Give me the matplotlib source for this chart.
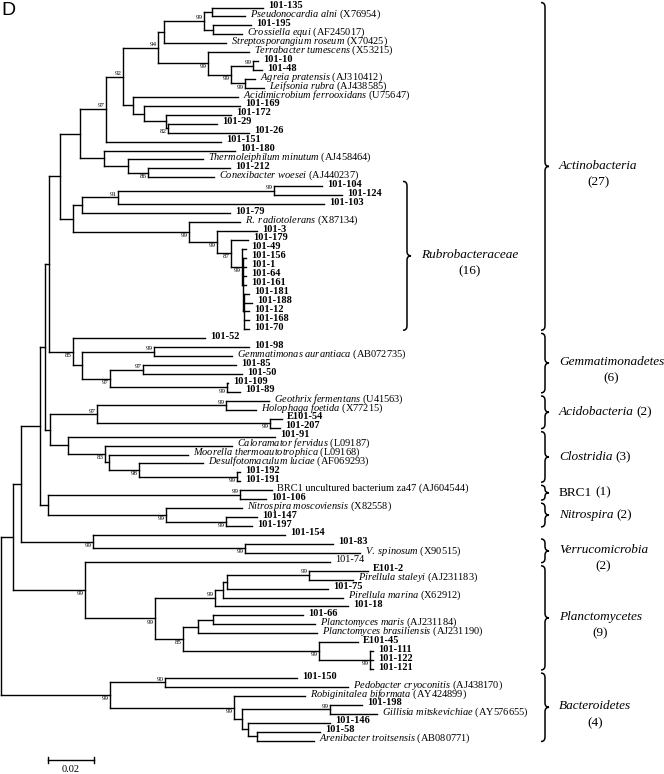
import matplotlib
matplotlib.use("Agg")
import matplotlib.pyplot as plt
from matplotlib.path import Path
from matplotlib.patches import PathPatch
from matplotlib.collections import LineCollection

plt.rcParams['font.family'] = ['Liberation Serif', 'DejaVu Serif']
plt.rcParams['mathtext.fontset'] = 'custom'
plt.rcParams['mathtext.rm'] = 'Liberation Serif'
plt.rcParams['mathtext.it'] = 'Liberation Serif:italic'
plt.rcParams['mathtext.bf'] = 'Liberation Serif:bold'

# leaves, top to bottom
leaf_names = [
    "101-135", "Pseudonocardia alni", "101-195", "Crossiella equi", "Streptosporangium roseum",
    "Terrabacter tumescens", "101-10", "101-48", "Agreia pratensis", "Leifsonia rubra",
    "Acidimicrobium ferrooxidans", "101-169", "101-172", "101-29", "101-26", "101-151",
    "101-180", "Thermoleiphilum minutum", "101-212", "Conexibacter woesei",
    "101-104", "101-124", "101-103", "101-79", "R. radiotolerans", "101-3", "101-179",
    "101-49", "101-156", "101-1", "101-64", "101-161", "101-181", "101-188", "101-12",
    "101-168", "101-70",
    "101-52", "101-98", "Gemmatimonas aurantiaca", "101-85", "101-50", "101-109", "101-89",
    "Geothrix fermentans", "Holophaga foetida", "E101-54", "101-207",
    "101-91", "Caloramator fervidus", "Moorella thermoautotrophica", "Desulfotomaculum luciae",
    "101-192", "101-191",
    "BRC1 uncultured bacterium za47", "101-106",
    "Nitrospira moscoviensis", "101-147", "101-197",
    "101-154", "101-83", "V. spinosum", "101-74",
    "E101-2", "Pirellula staleyi", "101-75", "Pirellula marina", "101-18", "101-66",
    "Planctomyces maris", "Planctomyces brasiliensis", "E101-45", "101-111", "101-122", "101-121",
    "101-150", "Pedobacter cryoconitis", "Robiginitalea biformata", "101-198",
    "Gillisia mitskevichiae", "101-146", "101-58", "Arenibacter troitsensis",
]
leaf_acc = [
    "", "X76954", "", "AF245017", "X70425",
    "X53215", "", "", "AJ310412", "AJ438585",
    "U75647", "", "", "", "", "",
    "", "AJ458464", "", "AJ440237",
    "", "", "", "", "X87134", "", "",
    "", "", "", "", "", "", "", "",
    "", "",
    "", "", "AB072735", "", "", "", "",
    "U41563", "X77215", "", "",
    "", "L09187", "L09168", "AF069293",
    "", "",
    "AJ604544", "",
    "X82558", "", "",
    "", "", "X90515", "",
    "", "AJ231183", "", "X62912", "", "",
    "AJ231184", "AJ231190", "", "", "", "",
    "", "AJ438170", "AY424899", "",
    "AY576655", "", "", "AB080771",
]
# distance of each tip from the root (substitutions per site)
leaf_depth = [
    0.1139, 0.1061, 0.1087, 0.1048, 0.0978,
    0.1078, 0.1117, 0.1135, 0.1104, 0.1143,
    0.1030, 0.1039, 0.1000, 0.0939, 0.1078, 0.0957,
    0.1017, 0.0878, 0.0996, 0.0926,
    0.1396, 0.1483, 0.1404, 0.0996, 0.1039, 0.1113, 0.1074,
    0.1065, 0.1065, 0.1065, 0.1065, 0.1065, 0.1078, 0.1091, 0.1078,
    0.1078, 0.1078,
    0.0887, 0.1078, 0.1004, 0.1022, 0.1048, 0.0987, 0.1039,
    0.1165, 0.1109, 0.1222, 0.1213,
    0.1191, 0.1004, 0.0813, 0.0878,
    0.1039, 0.1039,
    0.1178, 0.1152,
    0.1048, 0.1113, 0.1091,
    0.1235, 0.1443, 0.1561, 0.1430,
    0.1596, 0.1530, 0.1422, 0.1487, 0.1509, 0.1313,
    0.1365, 0.1374, 0.1552, 0.1617, 0.1617, 0.1617,
    0.1287, 0.1509, 0.1322, 0.1570,
    0.1635, 0.1430, 0.1387, 0.1361,
]
plain_isolates = ["101-74"]
roman_refs = ["BRC1 uncultured bacterium za47"]

# internal nodes: children are leaf indices (int) or node ids (str)
node_ids = [
    "root", "n13", "n21", "n40", "n45", "n49", "n60", "n80", "n106", "n123",
    "n158", "n164", "n204", "n212", "n213", "n208", "n231", "n253", "n245",
    "n133", "n144", "n166", "n168", "n104", "n128", "n148",
    "n73", "n82", "n118", "n274", "n189", "n217", "n231r", "n242", "n243", "n244",
    "n73g", "n82g", "n154", "n110g", "n143", "n226",
    "n50", "n97", "n226a", "n270", "n68", "n105", "n109", "n139", "n237",
    "n48", "n240", "n166n", "n226n",
    "n93", "n245v", "n85", "n155", "n215", "n224", "n227p", "n309",
    "n183", "n198", "n213p", "n319", "n370",
    "n110", "n165", "n234", "n242b", "n330", "n248", "n257",
]
node_depth = [
    0.0, 0.0052, 0.0087, 0.0170, 0.0191, 0.0209, 0.0257, 0.0343, 0.0457, 0.0530,
    0.0683, 0.0709, 0.0883, 0.0917, 0.0922, 0.0900, 0.1000, 0.1096, 0.1061,
    0.0574, 0.0622, 0.0717, 0.0726, 0.0448, 0.0552, 0.0639,
    0.0313, 0.0352, 0.0509, 0.1187, 0.0817, 0.0939, 0.1000, 0.1048, 0.1052, 0.1057,
    0.0313, 0.0352, 0.0665, 0.0474, 0.0617, 0.0983,
    0.0213, 0.0417, 0.0978, 0.1170, 0.0291, 0.0452, 0.0470, 0.0600, 0.1026,
    0.0204, 0.1039, 0.0717, 0.0978,
    0.0400, 0.1061, 0.0365, 0.0670, 0.0930, 0.0965, 0.0983, 0.1339,
    0.0791, 0.0857, 0.0922, 0.1383, 0.1604,
    0.0474, 0.0713, 0.1013, 0.1048, 0.1430, 0.1074, 0.1113,
]
node_kids = [
    ["n13", "n110"], ["n21", "n85"], ["n40", "n93"], ["n45", "n48"], ["n49", "n50"],
    ["n60", "n73g"], ["n80", "n73"], ["n106", "n104"], ["n123", 15], ["n158", "n133"],
    ["n164", "n208"], ["n204", 4], ["n212", "n213"], [0, 1], [2, 3], [5, "n231"],
    ["n253", "n245"], [6, 7], [8, 9],
    [10, "n144"], [11, "n166"], [12, "n168"], [13, 14], [16, "n128"], [17, "n148"], [18, 19],
    ["n82", "n189"], ["n118", 23], ["n274", 22], [20, 21], [24, "n217"], [25, "n231r"],
    [26, "n242"], [27, "n243"], [28, 29, 30, 31, "n244"], [32, 33, 34, 35, 36],
    [37, "n82g"], ["n154", "n110g"], [38, 39], ["n143", "n226"], [40, 41], [42, 43],
    ["n97", "n68"], ["n226a", "n270"], [44, 45], [46, 47], [48, "n105"], [49, "n109"],
    [50, "n139"], [51, "n237"], [52, 53],
    ["n240", "n166n"], [54, 55], [56, "n226n"], [57, 58],
    [59, "n245v"], [60, 61], [62, "n155"], ["n215", "n183"], ["n224", 67], ["n227p", 66],
    ["n309", 65], [63, 64],
    ["n198", "n319"], ["n213p", 70], [68, 69], [71, "n370"], [72, 73, 74],
    ["n165", "n234"], [75, 76], [77, "n242b"], ["n330", "n248"], [78, 79], [80, "n257"], [81, 82],
]
node_boot = [
    None, None, None, None, None, None, None, None, 97, 92,
    94, None, 99, None, None, 99, 99, 99, 99,
    None, None, None, 82, None, None, 86,
    None, None, 91, 99, 99, 99, 87, 99, None, None,
    85, None, 99, 97, 97, 99,
    None, 97, 99, 99, None, 83, None, 98, 99,
    None, 99, 99, 99,
    99, 99, 99, 99, 99, None, None, 99,
    85, None, None, 99, 99,
    99, 90, 99, None, 99, None, None,
]
boot_above = ["n106", "n123", "n158", "n204", "n253", "n118", "n274", "n154", "n143",
              "n226a", "n97", "n240", "n309", "n215", "n165", "n330"]

# clades marked with braces
clade_names = ["Actinobacteria", "Rubrobacteraceae", "Gemmatimonadetes", "Acidobacteria",
               "Clostridia", "BRC1", "Nitrospira", "Verrucomicrobia", "Planctomycetes",
               "Bacteroidetes"]
clade_counts = [27, 16, 6, 2, 3, 1, 2, 2, 9, 4]
clade_first = [0, 20, 37, 44, 48, 54, 56, 60, 63, 75]
clade_last = [36, 36, 43, 47, 53, 55, 58, 62, 74, 82]

# layout
PX = 0.02 / 46.0          # units per pixel (scale bar 0.02 ~ 46 px)
ROW = 8.94                # pixels per leaf row
brace_x = [545, 407, 545, 545, 545, 545, 545, 545, 545, 545]
two_line = ["Actinobacteria", "Rubrobacteraceae", "Gemmatimonadetes", "Verrucomicrobia",
            "Planctomycetes", "Bacteroidetes"]
roman_clades = ["BRC1"]

fig = plt.figure(figsize=(6.64, 7.74), dpi=100)
ax = fig.add_axes([0, 0, 1, 1])
ax.set_xlim(-1 * PX, 663 * PX)
ax.set_ylim((774 - 7.5) / ROW, -7.5 / ROW)
ax.axis('off')

idx = {n: k for k, n in enumerate(node_ids)}


def xpos(n):
    return leaf_depth[n] if isinstance(n, int) else node_depth[idx[n]]


ycache = {}


def ypos(n):
    if isinstance(n, int):
        return float(n)
    if n not in ycache:
        kids = node_kids[idx[n]]
        ycache[n] = (ypos(kids[0]) + ypos(kids[-1])) / 2
    return ycache[n]


segs = []
for k, n in enumerate(node_ids):
    x = node_depth[k]
    kids = node_kids[k]
    segs.append([(x, ypos(kids[0])), (x, ypos(kids[-1]))])
    for c in kids:
        segs.append([(x, ypos(c)), (xpos(c), ypos(c))])
    b = node_boot[k]
    if b is not None:
        if n in boot_above:
            ax.text(x - 1.2 * PX, ypos(n) - 0.08, str(b), ha='right', va='bottom', fontsize=5)
        else:
            ax.text(x - 1.2 * PX, ypos(n) + 0.12, str(b), ha='right', va='top', fontsize=5)

ax.add_collection(LineCollection(segs, colors='black', linewidths=1.0, capstyle='projecting'))

# tip labels
for i, name in enumerate(leaf_names):
    x = leaf_depth[i] + 5 * PX
    y = i - 0.22
    acc = leaf_acc[i]
    if acc:
        if name in roman_refs:
            label = f"{name} ({acc})"
        else:
            nm = name.replace(" ", r"\ ")
            label = r"$\mathit{" + nm + "}$" + f" ({acc})"
        ax.text(x, y, label, ha='left', va='center', fontsize=7.5)
    elif name in plain_isolates:
        ax.text(x, y, name, ha='left', va='center', fontsize=7.5)
    else:
        ax.text(x, y, name, ha='left', va='center', fontsize=7.5, fontweight='bold')


def brace(x, y0, y1, w, r):
    ym = (y0 + y1) / 2
    verts = [(x - w, y0), (x, y0), (x, y0 + r), (x, ym - r), (x, ym), (x + w, ym),
             (x, ym), (x, ym + r), (x, y1 - r), (x, y1), (x - w, y1)]
    codes = [Path.MOVETO, Path.CURVE3, Path.CURVE3, Path.LINETO, Path.CURVE3, Path.CURVE3,
             Path.CURVE3, Path.CURVE3, Path.LINETO, Path.CURVE3, Path.CURVE3]
    ax.add_patch(PathPatch(Path(verts, codes), fill=False, lw=1.1, color='black'))
    return ym


renderer = fig.canvas.get_renderer()
for k, name in enumerate(clade_names):
    y0 = clade_first[k] - 0.55
    y1 = clade_last[k] + 0.1
    r = min(0.5, (y1 - y0) / 4)
    bx = (brace_x[k] - 1) * PX
    ym = brace(bx, y0, y1, 4 * PX, r)
    tx = bx + 14 * PX
    style = 'normal' if name in roman_clades else 'italic'
    if name in two_line:
        t = ax.text(tx, ym - 0.1, name, ha='left', va='center', fontsize=9.5, style=style)
        bb = t.get_window_extent(renderer=renderer)
        cx = ax.transData.inverted().transform(((bb.x0 + bb.x1) / 2, 0))[0]
        ax.text(cx, ym + 1.75, f"({clade_counts[k]})", ha='center', va='center', fontsize=9.5)
    else:
        t = ax.text(tx, ym, name, ha='left', va='center', fontsize=9.5, style=style)
        bb = t.get_window_extent(renderer=renderer)
        ex = ax.transData.inverted().transform((bb.x1, 0))[0]
        ax.text(ex + 3 * PX, ym, f"({clade_counts[k]})", ha='left', va='center', fontsize=9.5)

# scale bar
sx = 47 * PX
sy = (760 - 7.5) / ROW
ax.plot([sx, sx + 0.02], [sy, sy], color='black', lw=1.0)
ax.plot([sx, sx], [sy - 0.35, sy + 0.35], color='black', lw=1.0)
ax.plot([sx + 0.02, sx + 0.02], [sy - 0.35, sy + 0.35], color='black', lw=1.0)
ax.text(sx + 0.01, (770 - 7.5) / ROW, "0.02", ha='center', va='center', fontsize=7.5)

fig.text(0.002, 0.998, "D", ha='left', va='top', fontsize=14, family='Liberation Sans')

fig.savefig("out.png", dpi=100)
